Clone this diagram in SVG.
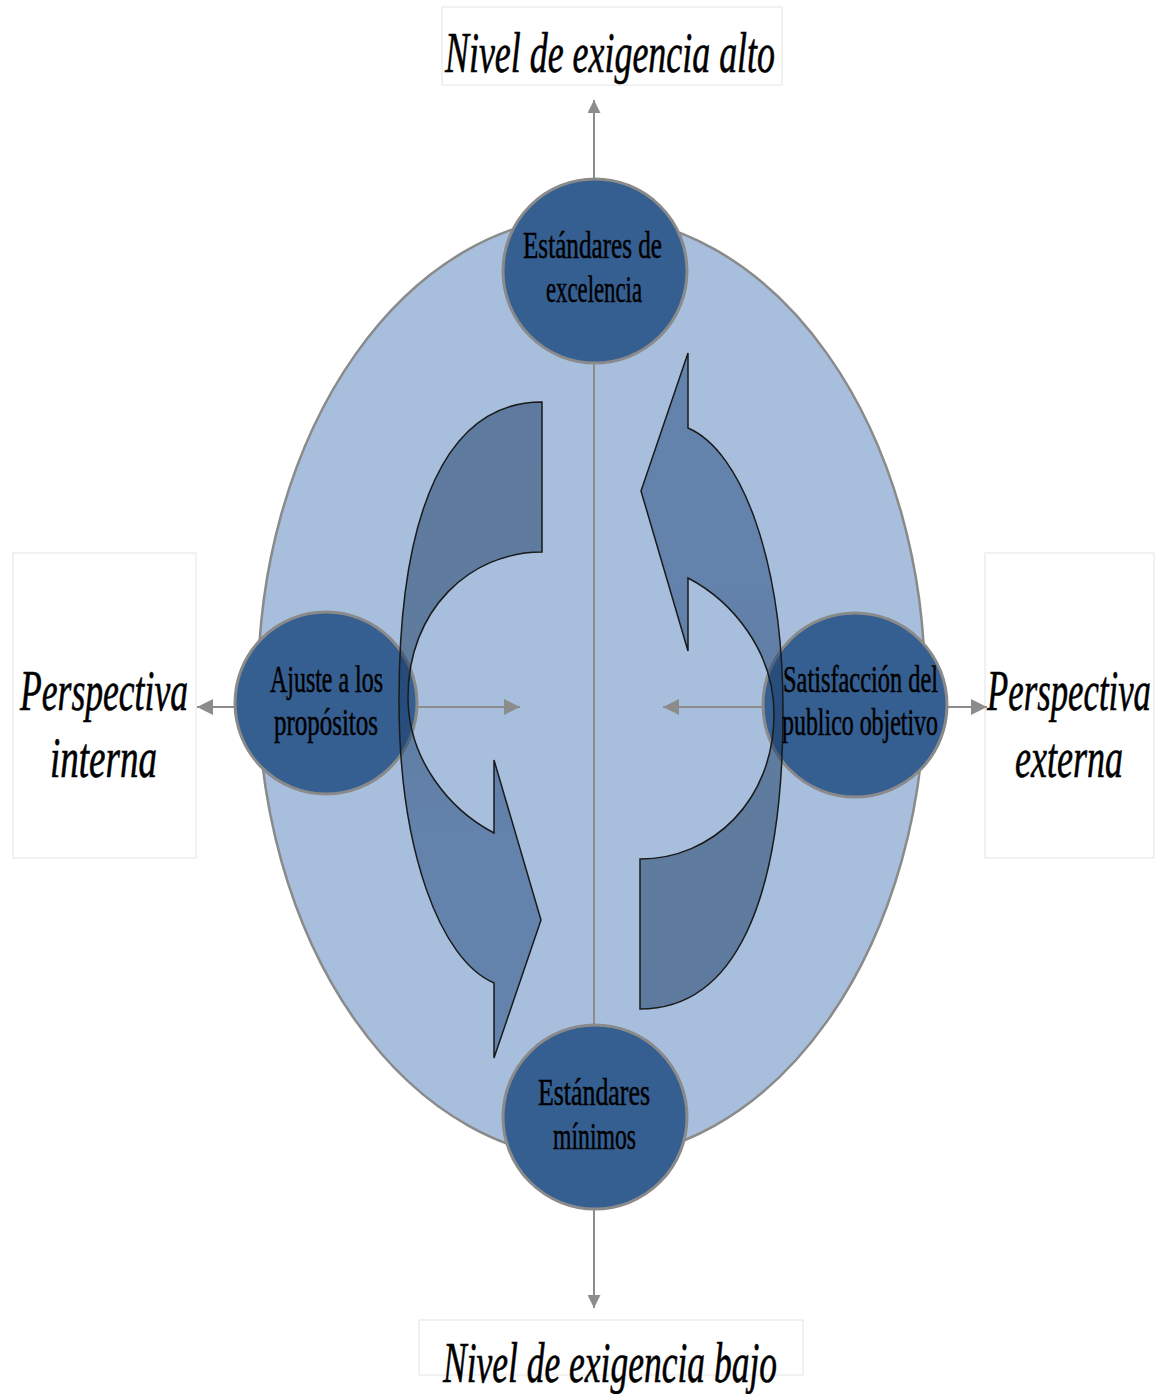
<svg xmlns="http://www.w3.org/2000/svg" width="1164" height="1394" viewBox="0 0 1164 1394">
<style>
.box{fill:#ffffff;stroke:#e4e4e4;stroke-width:1}
.big{font-family:"Liberation Serif","Times New Roman",serif;font-style:italic;font-size:56px;fill:#000;stroke:#000;stroke-width:0.6}
.lbl{font-family:"Liberation Serif","Times New Roman",serif;font-size:37px;fill:#000;stroke:#000;stroke-width:0.5}
.node{fill:#355e91;stroke:#8a8a8a;stroke-width:3}
.ax{stroke:#8c8c8c;stroke-width:2;fill:none}
.carrow{fill:url(#ag);stroke:#1a1a1a;stroke-width:1.5}
</style>
<defs>
<marker id="ah" viewBox="0 0 10 10" refX="10" refY="5" markerUnits="userSpaceOnUse" markerWidth="19" markerHeight="16" orient="auto"><path d="M0,0 L10,5 L0,10 z" fill="#8c8c8c"/></marker>
<marker id="av" viewBox="0 0 10 10" refX="10" refY="5" markerUnits="userSpaceOnUse" markerWidth="33" markerHeight="13" orient="auto"><path d="M0,0 L10,5 L0,10 z" fill="#8c8c8c"/></marker>
<linearGradient id="ag" x1="0" y1="0" x2="0" y2="1">
<stop offset="0" stop-color="#15355f" stop-opacity="0.5"/>
<stop offset="0.4" stop-color="#17385f" stop-opacity="0.5"/>
<stop offset="0.65" stop-color="#1f457b" stop-opacity="0.5"/>
<stop offset="1" stop-color="#1f457b" stop-opacity="0.5"/>
</linearGradient>
</defs>

<g id="label-top"><rect class="box" x="442" y="7" width="340" height="78"/><text class="big" x="445" y="72" textLength="330" lengthAdjust="spacingAndGlyphs">Nivel de exigencia alto</text></g>
<g id="label-bottom"><rect class="box" x="419" y="1320" width="384" height="55"/><text class="big" x="443" y="1382" textLength="334" lengthAdjust="spacingAndGlyphs">Nivel de exigencia bajo</text></g>
<g id="label-left"><rect class="box" x="13" y="553" width="183" height="305"/><text class="big" x="20" y="710" textLength="168" lengthAdjust="spacingAndGlyphs">Perspectiva</text><text class="big" x="50" y="777" textLength="107" lengthAdjust="spacingAndGlyphs">interna</text></g>
<g id="label-right"><rect class="box" x="985" y="553" width="169" height="305"/><text class="big" x="987" y="710" textLength="164" lengthAdjust="spacingAndGlyphs">Perspectiva</text><text class="big" x="1015" y="777" textLength="108" lengthAdjust="spacingAndGlyphs">externa</text></g>

<g id="background-ellipse"><ellipse cx="591.5" cy="687.5" rx="333.5" ry="471.5" fill="#a7bfdd" stroke="#8a8a8a" stroke-width="2.5"/></g>

<g id="connectors">
<line class="ax" x1="594" y1="364" x2="594" y2="1026" stroke-width="1.5"/>
<line class="ax" x1="594" y1="180" x2="594" y2="100" marker-end="url(#av)"/>
<line class="ax" x1="594" y1="1208" x2="594" y2="1308" marker-end="url(#av)"/>
<line class="ax" x1="236" y1="707" x2="197" y2="707" marker-end="url(#ah)"/>
<line class="ax" x1="417" y1="707" x2="520" y2="707" marker-end="url(#ah)"/>
<line class="ax" x1="763" y1="707" x2="663" y2="707" marker-end="url(#ah)"/>
<line class="ax" x1="947" y1="707" x2="987" y2="707" marker-end="url(#ah)"/>
</g>

<g id="node-top"><circle class="node" cx="595" cy="271" r="92"/></g>
<g id="node-bottom"><circle class="node" cx="595" cy="1117" r="92"/></g>
<g id="node-left"><circle class="node" cx="326" cy="703" r="91"/></g>
<g id="node-right"><circle class="node" cx="855" cy="705" r="92"/></g>

<g id="cycle-arrows">
<path id="arrow-left" class="carrow" d="M542,402 C447,402 399,510 399,700 C399,850 440,960 494,983 L494,1058 L541,920 L494,760 L494,833 C450,810 408,760 408,697 C408,610 470,552 542,552 Z"/>
<path id="arrow-right" class="carrow" transform="rotate(180 591 705.5)" d="M542,402 C447,402 399,510 399,700 C399,850 440,960 494,983 L494,1058 L541,920 L494,760 L494,833 C450,810 408,760 408,697 C408,610 470,552 542,552 Z"/>
</g>

<g id="node-texts">
<text class="lbl" x="523" y="258" textLength="139" lengthAdjust="spacingAndGlyphs">Estándares de</text>
<text class="lbl" x="546" y="302" textLength="96" lengthAdjust="spacingAndGlyphs">excelencia</text>
<text class="lbl" x="538" y="1105" textLength="112" lengthAdjust="spacingAndGlyphs">Estándares</text>
<text class="lbl" x="553" y="1149" textLength="83" lengthAdjust="spacingAndGlyphs">mínimos</text>
<text class="lbl" x="270" y="692" textLength="113" lengthAdjust="spacingAndGlyphs">Ajuste a los</text>
<text class="lbl" x="274" y="735" textLength="104" lengthAdjust="spacingAndGlyphs">propósitos</text>
<text class="lbl" x="783" y="692" textLength="155" lengthAdjust="spacingAndGlyphs">Satisfacción del</text>
<text class="lbl" x="782" y="735" textLength="156" lengthAdjust="spacingAndGlyphs">publico objetivo</text>
</g>
</svg>
